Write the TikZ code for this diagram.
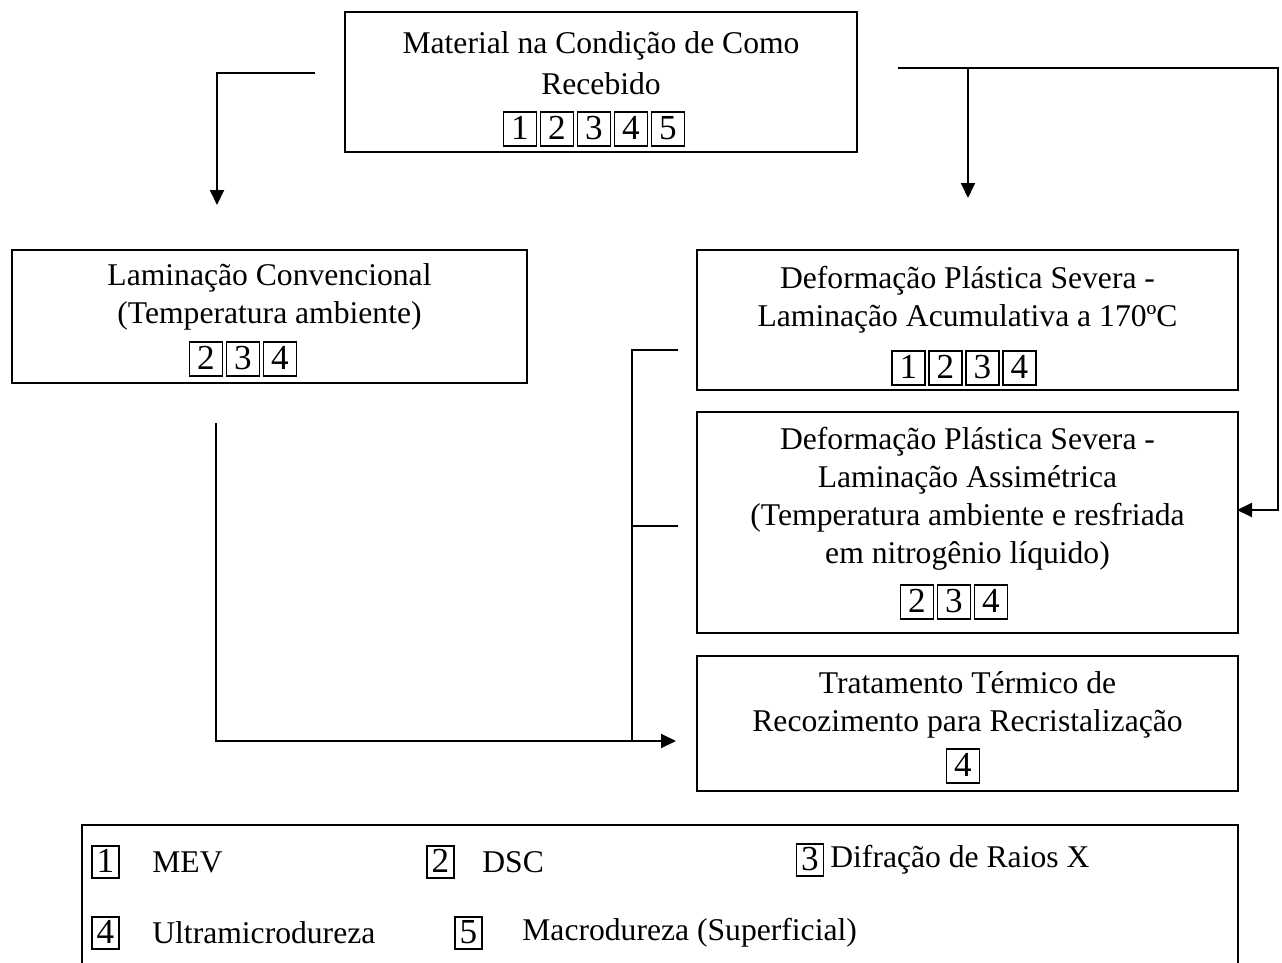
\documentclass[tikz,border=0pt]{standalone}
\usepackage{fontspec}
\setmainfont{Liberation Serif}
\usetikzlibrary{arrows.meta}

\begin{document}
\begin{tikzpicture}
    [%%%%%%%%%%%%%%%%%%%%%%%%%%%%%%
        x=0.02cm,y=-0.02cm,
        box/.style={rectangle,draw=black,line width=1.1pt,inner sep=0pt},
        numbox/.style={rectangle,draw=black,line width=0.9pt,inner sep=0pt,minimum width=0.66cm,minimum height=0.68cm,text height=0.47cm,text depth=0.05cm,font=\fontsize{20}{22}\selectfont},
        legbox/.style={numbox,minimum width=0.54cm,minimum height=0.64cm},
        txt/.style={align=center,inner sep=0pt,font=\fontsize{18}{21.6}\selectfont},
        legtxt/.style={anchor=west,inner sep=0pt,font=\fontsize{18}{20}\selectfont},
        line/.style={draw=black,line width=1.1pt},
        arr/.style={line,-{Triangle[length=0.3cm,width=0.28cm]}},
    ]%%%%%%%%%%%%%%%%%%%%%%%%%%%%%%

\useasboundingbox (0,0) rectangle (1282,963);

% material
\node[box,minimum width=10.24cm,minimum height=2.8cm] (recebido) at (601,82){};
\node[txt,font=\fontsize{18}{23.5}\selectfont] (recebidotxt) at (601,63) {Material na Condição de Como\\Recebido};
\foreach \n in {1,...,5}
    \node[numbox] (rec\n) at ({483+37*\n},129){\n};

% laminacao convencional
\node[box,minimum width=10.3cm,minimum height=2.66cm] (conv) at (269.5,316.5){};
\node[txt] (convtxt) at (269.5,297) {Laminação Convencional\\(Temperatura ambiente)};
\foreach \n [count=\i] in {2,3,4}
    \node[numbox] (conv\n) at ({169+37*\i},359){\n};

% acumulativa
\node[box,minimum width=10.82cm,minimum height=2.8cm] (arb) at (967.5,320){};
\node[txt] (arbtxt) at (967.5,299.5) {Deformação Plástica Severa -\\Laminação Acumulativa a 170ºC};
\foreach \n in {1,...,4}
    \node[numbox] (arb\n) at ({871.5+37*\n},368){\n};

% assimetrica
\node[box,minimum width=10.82cm,minimum height=4.42cm] (asym) at (967.5,522.5){};
\node[txt] (asymtxt) at (967.5,499) {Deformação Plástica Severa -\\Laminação Assimétrica\\(Temperatura ambiente e resfriada\\em nitrogênio líquido)};
\foreach \n [count=\i] in {2,3,4}
    \node[numbox] (asym\n) at ({880+37*\i},602){\n};

% recozimento
\node[box,minimum width=10.82cm,minimum height=2.7cm] (rec) at (967.5,723.5){};
\node[txt] (rectxt) at (967.5,704.5) {Tratamento Térmico de\\Recozimento para Recristalização};
\node[numbox] (rec4) at (963,766){4};

% legenda
\draw[line] (82,963) |- (1238,825) -- (1238,963);
\node[legbox] (leg1) at (105.5,862){1};
\node[legtxt] (mev) at (152,862){MEV};
\node[legbox] (leg2) at (440.5,862){2};
\node[legtxt] (dsc) at (482,862){DSC};
\node[legbox] (leg3) at (810,860){3};
\node[legtxt] (drx) at (830,860){Difração de Raios X};
\node[legbox] (leg4) at (105.5,933){4};
\node[legtxt] (umd) at (152,933){Ultramicrodureza};
\node[legbox] (leg5) at (468.5,933){5};
\node[legtxt] (mad) at (522,933){Macrodureza (Superficial)};

% ligacoes
\coordinate (l0) at (315,73);
\coordinate (l1) at (217,205);
\draw[arr] (l0) -| (l1);

\coordinate (r0) at (898,68);
\coordinate (rc) at (1278,68);
\coordinate (r2) at (1237,510);
\draw[arr] (r0) -- (rc) |- (r2);
\coordinate (rb) at (968,68);
\coordinate (rb1) at (968,198);
\draw[arr] (rb) -- (rb1);

\coordinate (b0) at (216,423);
\coordinate (b1) at (676,741);
\draw[arr] (b0) |- (b1);

\coordinate (t1) at (678,350);
\coordinate (t2) at (678,526);
\coordinate (bus) at (632,741);
\draw[line] (t1) -| (bus);
\draw[line] (t2) -- (t2 -| bus);
\end{tikzpicture}
\end{document}
